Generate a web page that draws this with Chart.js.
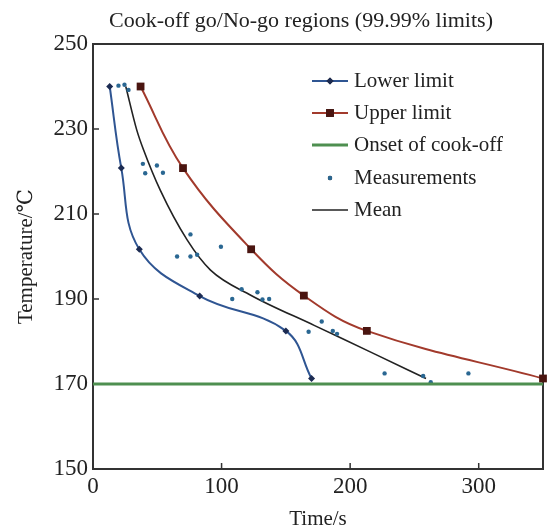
<!DOCTYPE html>
<html>
<head>
<meta charset="utf-8">
<script src="https://cdn.jsdelivr.net/npm/chart.js@4/dist/chart.umd.min.js"></script>
<style>
  html, body { margin: 0; padding: 0; background: #fff; }
  #wrap { width: 551px; height: 532px; }
</style>
</head>
<body>
<div id="wrap"><canvas id="chart" width="551" height="532"></canvas></div>
<script>
// data (time in s, temperature in degC)
const lowerTime = [13, 22, 36, 83, 150, 170];
const lowerTemp = [240, 220.8, 201.7, 190.7, 182.5, 171.3];

const upperTime = [37, 70, 123, 164, 213, 350];
const upperTemp = [240, 220.8, 201.7, 190.8, 182.5, 171.3];

const onsetTime = [0, 350];
const onsetTemp = [170, 170];

const meanTime = [25.5, 34, 39.3, 52.3, 73.2, 91.4, 122.7, 172, 216, 259];
const meanTemp = [240, 229.8, 225.1, 215.6, 203.9, 196.8, 190.9, 183.8, 177.5, 171.3];

const measTime = [19.8, 24.5, 27.6, 38.8, 49.7, 40.6, 54.4, 75.8, 99.5, 65.4, 75.8, 81,
  115.6, 108.3, 127.9, 131.8, 137, 167.7, 177.9, 186.5, 189.8, 226.8, 256.8, 262.7, 292];
const measTemp = [240.2, 240.4, 239.2, 221.8, 221.4, 219.6, 219.7, 205.2, 202.3, 200, 200, 200.4,
  192.3, 190, 191.6, 189.9, 190, 182.3, 184.7, 182.5, 181.8, 172.5, 171.9, 170.4, 172.5];

const xTicks = [0, 100, 200, 300];
const yTicks = [150, 170, 190, 210, 230, 250];

const TITLE = 'Cook-off go/No-go regions (99.99% limits)';
const SERIF = '"Liberation Serif", "DejaVu Serif", serif';
const pts = (xs, ys) => xs.map((x, i) => ({ x: x, y: ys[i] }));

// frame round the plot area, with tick marks pointing inwards
const framePlugin = {
  id: 'frame',
  beforeDatasetsDraw(chart) {
    const { ctx, chartArea: a, scales } = chart;
    ctx.save();
    ctx.strokeStyle = '#333';
    ctx.lineWidth = 2;
    ctx.strokeRect(a.left, a.top, a.right - a.left, a.bottom - a.top);
    ctx.lineWidth = 1.5;
    ctx.beginPath();
    xTicks.forEach(v => {
      const px = scales.x.getPixelForValue(v);
      ctx.moveTo(px, a.bottom); ctx.lineTo(px, a.bottom - 6);
    });
    yTicks.forEach(v => {
      const py = scales.y.getPixelForValue(v);
      ctx.moveTo(a.left, py); ctx.lineTo(a.left + 6, py);
    });
    ctx.stroke();
    ctx.restore();
  }
};

// title and legend, both placed as in the figure
const legendPlugin = {
  id: 'insideLegend',
  afterDraw(chart) {
    const { ctx } = chart;
    ctx.save();
    ctx.fillStyle = '#222';
    ctx.textBaseline = 'middle';
    ctx.textAlign = 'center';
    ctx.font = '22px ' + SERIF;
    ctx.fillText(TITLE, 301, 21);

    const x0 = 312, x1 = 348, tx = 354;
    const rowY = [81, 113, 145, 178, 210];
    ctx.textAlign = 'left';
    ctx.font = '21px ' + SERIF;
    chart.data.datasets.forEach((ds, i) => {
      const y = rowY[i];
      if (ds.showLine !== false) {
        ctx.strokeStyle = ds.borderColor;
        ctx.lineWidth = ds.borderWidth;
        ctx.beginPath(); ctx.moveTo(x0, y); ctx.lineTo(x1, y); ctx.stroke();
      }
      if (ds.pointRadius > 0) {
        Chart.helpers.drawPoint(ctx, {
          pointStyle: ds.pointStyle, radius: ds.pointRadius, rotation: 0,
          borderWidth: 0
        }, (x0 + x1) / 2, y);
        ctx.fillStyle = ds.pointBackgroundColor;
        ctx.fill();
        ctx.fillStyle = '#222';
      }
      ctx.fillText(ds.label, tx, y);
    });
    ctx.restore();
  }
};

new Chart(document.getElementById('chart'), {
  type: 'scatter',
  data: {
    datasets: [
      {
        label: 'Lower limit', data: pts(lowerTime, lowerTemp), showLine: true, tension: 0.4,
        borderColor: '#2f5592', borderWidth: 2, pointStyle: 'rectRot', pointRadius: 3.5,
        pointBackgroundColor: '#1c2b52', pointBorderWidth: 0, clip: false
      },
      {
        label: 'Upper limit', data: pts(upperTime, upperTemp), showLine: true, tension: 0.4,
        borderColor: '#a23a2c', borderWidth: 2, pointStyle: 'rect', pointRadius: 5.5,
        pointBackgroundColor: '#4a1510', pointBorderWidth: 0, clip: false
      },
      {
        label: 'Onset of cook-off', data: pts(onsetTime, onsetTemp), showLine: true,
        borderColor: '#4e8f50', borderWidth: 3, pointRadius: 0, clip: false
      },
      {
        label: 'Measurements', data: pts(measTime, measTemp), showLine: false,
        pointStyle: 'circle', pointRadius: 2.2, pointBackgroundColor: '#2a6792',
        pointBorderWidth: 0, borderColor: '#2a6792', borderWidth: 0, clip: false
      },
      {
        label: 'Mean', data: pts(meanTime, meanTemp), showLine: true, cubicInterpolationMode: 'monotone',
        borderColor: '#222', borderWidth: 1.6, pointRadius: 0, clip: false
      }
    ]
  },
  options: {
    responsive: false,
    animation: false,
    events: [],
    layout: { padding: { left: 0, right: 8, top: 44, bottom: 0 } },
    plugins: {
      legend: { display: false },
      tooltip: { enabled: false },
      title: { display: false }
    },
    scales: {
      x: {
        type: 'linear', min: 0, max: 350,
        afterBuildTicks: s => { s.ticks = xTicks.map(v => ({ value: v })); },
        afterFit: s => { s.height = 63; },
        grid: { display: false, drawTicks: false },
        border: { display: false },
        ticks: { color: '#222', padding: 4, font: { family: SERIF, size: 23 } },
        title: {
          display: true, text: 'Time/s', color: '#222',
          font: { family: SERIF, size: 21 }, padding: { top: 0, bottom: 0 }
        }
      },
      y: {
        type: 'linear', min: 150, max: 250,
        afterBuildTicks: s => { s.ticks = yTicks.map(v => ({ value: v })); },
        afterFit: s => { s.width = 93; },
        grid: { display: false, drawTicks: false },
        border: { display: false },
        ticks: { color: '#222', padding: 5, font: { family: SERIF, size: 23 } },
        title: {
          display: true, text: 'Temperature/℃', color: '#222',
          font: { family: SERIF, size: 21 }, padding: { top: 14, bottom: 0 }
        }
      }
    }
  },
  plugins: [framePlugin, legendPlugin]
});
</script>
</body>
</html>
